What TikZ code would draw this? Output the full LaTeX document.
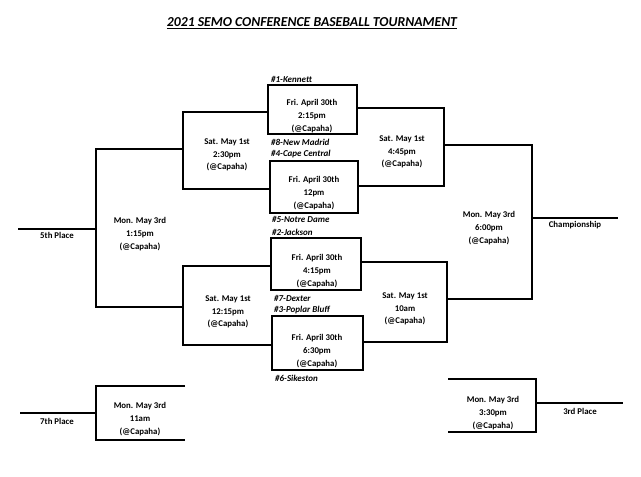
\documentclass[tikz,border=0pt]{standalone}
\usepackage{fontspec}
\setmainfont{Carlito}
\begin{document}
\begin{tikzpicture}[x=1pt,y=-1pt,
  line/.style={line width=1.8pt,line join=miter},
  game/.style={draw,line width=1.8pt,inner sep=0pt},
  info/.style={font=\fontsize{8.8}{12.7}\selectfont\bfseries,align=center,inner sep=0pt},
  team/.style={font=\fontsize{9}{10}\selectfont\bfseries\itshape,anchor=west,inner sep=0pt},
  place/.style={font=\fontsize{8.8}{10}\selectfont\bfseries,inner sep=0pt}]
\useasboundingbox (0,0) rectangle (641,477);
\fill[white] (0,0) rectangle (641,477);
% title
\node[font=\fontsize{13.7}{15}\selectfont\bfseries\itshape,inner sep=0pt] (title) at (312,23) {\underline{2021 SEMO CONFERENCE BASEBALL TOURNAMENT}};
% Friday games
\node[game,minimum width=89pt,minimum height=49pt] (A) at (312.5,109.5) {};
\node[game,minimum width=88pt,minimum height=52pt] (B) at (314,187) {};
\node[game,minimum width=90pt,minimum height=52pt] (C) at (316,264) {};
\node[game,minimum width=91pt,minimum height=54pt] (D) at (317.5,343) {};
\node[info] (At) at (312,116) {Fri. April 30th\\2:15pm\\(@Capaha)};
\node[info] (Bt) at (314,193) {Fri. April 30th\\12pm\\(@Capaha)};
\node[info] (Ct) at (317,271) {Fri. April 30th\\4:15pm\\(@Capaha)};
\node[info] (Dt) at (317,351) {Fri. April 30th\\6:30pm\\(@Capaha)};
% teams
\node[team] (t1) at (271,79) {\#1-Kennett};
\node[team] (t8) at (271,142) {\#8-New Madrid};
\node[team] (t4) at (271,154) {\#4-Cape Central};
\node[team] (t5) at (272,219) {\#5-Notre Dame};
\node[team] (t2) at (272,232) {\#2-Jackson};
\node[team] (t7) at (274,298) {\#7-Dexter};
\node[team] (t3) at (274,310) {\#3-Poplar Bluff};
\node[team] (t6) at (275,378) {\#6-Sikeston};
% bracket corner coordinates
\coordinate (E1) at (183,112); \coordinate (E2) at (183,189); \coordinate (Em) at (183,149);
\coordinate (F1) at (183,266); \coordinate (F2) at (183,345); \coordinate (Fm) at (183,307);
\coordinate (G1) at (444,108); \coordinate (G2) at (444,186); \coordinate (Gm) at (444,145);
\coordinate (H1) at (447,262); \coordinate (H2) at (447,342); \coordinate (Hm) at (447,299);
\coordinate (P5a) at (96,149); \coordinate (P5b) at (96,307); \coordinate (P5m) at (96,229); \coordinate (P5e) at (18,229);
\coordinate (CHa) at (532,145); \coordinate (CHb) at (532,299); \coordinate (CHm) at (532,218); \coordinate (CHe) at (618,218);
\coordinate (S7a) at (96,386); \coordinate (S7b) at (96,440); \coordinate (S7m) at (96,413); \coordinate (S7e) at (20,413);
\coordinate (S7t) at (185,386); \coordinate (S7u) at (185,440);
\coordinate (T3a) at (536,379); \coordinate (T3b) at (536,432); \coordinate (T3m) at (536,403); \coordinate (T3e) at (623,403);
\coordinate (T3t) at (448,379); \coordinate (T3u) at (448,432);
% left Saturday brackets
\draw[line] (A.west |- E1) -- (E1) -- (E2) -- (B.west |- E2);
\draw[line] (C.west |- F1) -- (F1) -- (F2) -- (D.west |- F2);
% right Saturday brackets
\draw[line] (A.east |- G1) -- (G1) -- (G2) -- (B.east |- G2);
\draw[line] (C.east |- H1) -- (H1) -- (H2) -- (D.east |- H2);
% 5th place
\draw[line] (Em) -- (P5a) -- (P5b) -- (Fm);
\draw[line] (P5m) -- (P5e);
% championship
\draw[line] (Gm) -- (CHa) -- (CHb) -- (Hm);
\draw[line] (CHm) -- (CHe);
% 7th place
\draw[line] (S7t) -- (S7a) -- (S7b) -- (S7u);
\draw[line] (S7m) -- (S7e);
% 3rd place
\draw[line] (T3t) -- (T3a) -- (T3b) -- (T3u);
\draw[line] (T3m) -- (T3e);
% Saturday / Monday texts
\node[info] (Et) at (227,155) {Sat. May 1st\\2:30pm\\(@Capaha)};
\node[info] (Gt) at (402,152) {Sat. May 1st\\4:45pm\\(@Capaha)};
\node[info] (Ft) at (228,312) {Sat. May 1st\\12:15pm\\(@Capaha)};
\node[info] (Ht) at (405,309) {Sat. May 1st\\10am\\(@Capaha)};
\node[info] (M5) at (140,234) {Mon. May 3rd\\1:15pm\\(@Capaha)};
\node[info] (MC) at (489,228) {Mon. May 3rd\\6:00pm\\(@Capaha)};
\node[info] (M7) at (140,419) {Mon. May 3rd\\11am\\(@Capaha)};
\node[info] (M3) at (493,413) {Mon. May 3rd\\3:30pm\\(@Capaha)};
% place labels
\node[place] (L5) at (57,235) {5th Place};
\node[place] (LC) at (575,225) {Championship};
\node[place] (L7) at (57,421) {7th Place};
\node[place] (L3) at (580,411) {3rd Place};
\end{tikzpicture}
\end{document}
